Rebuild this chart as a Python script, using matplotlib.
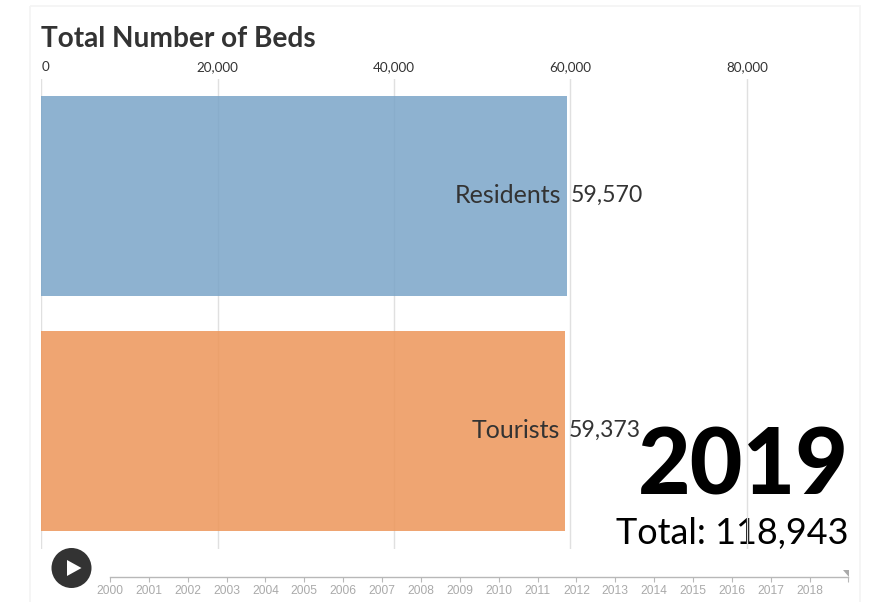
import matplotlib
matplotlib.use("Agg")
import matplotlib.pyplot as plt
from matplotlib.patches import Circle, Polygon, Rectangle

# Bed counts for the final year
categories = ["Residents", "Tourists"]
beds = [59570, 59373]
bar_colors = ["#7aa5c8", "#ed9659"]
x_ticks = [0, 20000, 40000, 60000, 80000]
year = 2019
total = 118943
timeline_years = list(range(2000, 2020))

W, H = 874, 602
FONT = "Lato"
TEXT = "#333333"


def px_box(left, top, right, bottom):
    # convert pixel edges to a figure-fraction axes rectangle
    return [left / W, 1 - bottom / H, (right - left) / W, (bottom - top) / H]


def px(size):
    return size * 0.72


fig = plt.figure(figsize=(W / 100, H / 100), dpi=100, facecolor="white")

# panel outline and play button live on a pixel-sized overlay
bg = fig.add_axes([0, 0, 1, 1], zorder=0)
bg.set_xlim(0, W)
bg.set_ylim(H, 0)
bg.axis("off")
bg.add_patch(Rectangle((29.5, 6), 830.5, 620, fill=False, ec="#f4f4f4", lw=1.3))

# Bar chart
ax = fig.add_axes(px_box(41.3, 79, 861.3, 549), zorder=1)
ax.patch.set_alpha(0)
ax.set_xlim(0, 820 / 176.4 * 20000)
ax.set_ylim(1.502, -0.498)
for spine in ax.spines.values():
    spine.set_visible(False)

ax.barh(range(len(beds)), beds, height=0.851, color=bar_colors, alpha=0.85, zorder=2)

ax.xaxis.tick_top()
ax.set_xticks(x_ticks)
ax.set_xticklabels([f"{v:,}" for v in x_ticks], fontsize=px(13.5), family=FONT, color=TEXT)
ax.get_xticklabels()[0].set_ha("left")
ax.set_yticks([])
ax.tick_params(axis="x", length=0, pad=4.5)
ax.grid(axis="x", color="#e0e0e0", lw=1)
ax.set_axisbelow(True)

for i, (name, value) in enumerate(zip(categories, beds)):
    ax.annotate(name, (value, i), xytext=(-5 * 0.72, 0.7), textcoords="offset points",
                ha="right", va="center", fontsize=px(25), family=FONT, color=TEXT, zorder=4)
    ax.annotate(f"{value:,}", (value, i), xytext=(4 * 0.72, 0.7), textcoords="offset points",
                ha="left", va="center", fontsize=px(23), family=FONT, color=TEXT, zorder=4)

# Year and running total sit under the grid lines
ax.text(807.2 / 820, 0.115, str(year), transform=ax.transAxes, ha="right", va="baseline",
        fontsize=px(91), family=FONT, weight="black", color="black", zorder=0.4)
ax.text(807.2 / 820, 0.0115, f"Total: {total:,}", transform=ax.transAxes, ha="right", va="baseline",
        fontsize=px(36), family=FONT, color="black", zorder=0.4)

fig.text(41 / W, 1 - 47 / H, "Total Number of Beds", fontsize=px(28), family=FONT,
         weight="bold", color=TEXT, ha="left", va="baseline")

# Play button
bg.add_patch(Circle((71.5, 568), 20, fc="#333333", ec="none"))
bg.add_patch(Polygon([[67, 560], [67, 576], [81.5, 568]], fc="white", ec="none"))

# Timeline, with the end-of-track handle at the last year
tl = fig.add_axes(px_box(110, 576, 848.5, 577), zorder=2)
tl.patch.set_alpha(0)
tl.set_xlim(timeline_years[0], timeline_years[-1])
tl.set_ylim(0, 1)
for name in ["left", "right", "top"]:
    tl.spines[name].set_visible(False)
tl.spines["bottom"].set_color("#b8b8b8")
tl.spines["bottom"].set_linewidth(1)
tl.set_yticks([])
tl.set_xticks(timeline_years)
tl.set_xticklabels([str(y) if y != timeline_years[-1] else "" for y in timeline_years],
                   fontsize=px(12), family="Liberation Sans", color="#aaaaaa")
tl.tick_params(axis="x", direction="out", length=px(5), width=0.8, color="#b8b8b8", pad=2.5)
bg.add_patch(Polygon([[842.5, 569.5], [848.5, 569.5], [848.5, 577]], fc="#aaaaaa", ec="none"))

fig.savefig("out.png", dpi=100)
